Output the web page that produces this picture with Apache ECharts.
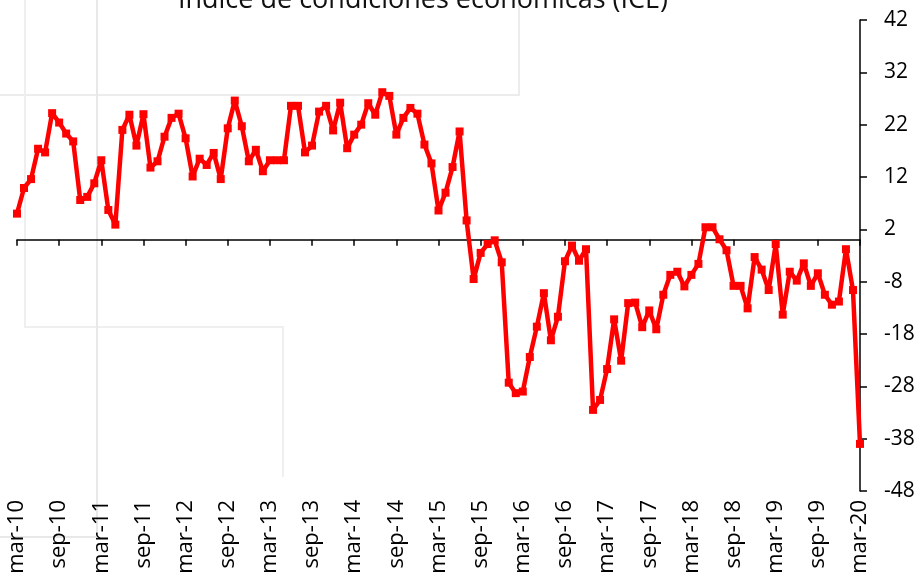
<!DOCTYPE html>
<html>
<head>
<meta charset="utf-8">
<script src="https://cdn.jsdelivr.net/npm/echarts@6/dist/echarts.min.js"></script>
<style>
  html, body { margin: 0; padding: 0; background: #fff; }
  #ice { width: 923px; height: 586px; }
</style>
</head>
<body>
<div id="ice"></div>
<script>
// meses y años del eje x (mar-10 .. mar-20)
const meses = ['ene', 'feb', 'mar', 'abr', 'may', 'jun', 'jul', 'ago', 'sep', 'oct', 'nov', 'dic'];
const anios = ['10', '11', '12', '13', '14', '15', '16', '17', '18', '19', '20'];

// valores del ICE, mensual desde mar-10
const valores = [
    5.0, 9.9, 11.6, 17.4, 16.7, 24.2, 22.4, 20.3, 18.8, 7.6, 8.2, 10.8,
    15.2, 5.7, 2.9, 21.0, 23.9, 18.0, 24.0, 13.8, 15.0, 19.7, 23.3, 24.1,
    19.4, 12.1, 15.5, 14.3, 16.6, 11.6, 21.3, 26.6, 21.7, 15.0, 17.2, 13.1,
    15.2, 15.2, 15.2, 25.6, 25.6, 16.7, 18.0, 24.5, 25.6, 20.9, 26.2, 17.5,
    20.1, 22.0, 26.1, 23.9, 28.2, 27.5, 20.1, 23.3, 25.2, 24.1, 18.2, 14.6,
    5.6, 9.0, 13.9, 20.7, 3.7, -7.5, -2.5, -0.8, -0.1, -4.3, -27.3, -29.3,
    -29.0, -22.4, -16.6, -10.2, -19.2, -14.7, -4.1, -1.1, -4.0, -1.8, -32.5, -30.6,
    -24.7, -15.2, -23.1, -12.1, -12.0, -16.7, -13.5, -17.1, -10.5, -6.7, -6.1, -8.9,
    -6.7, -4.6, 2.4, 2.4, 0.1, -2.0, -8.8, -8.8, -13.1, -3.3, -5.7, -9.6,
    -0.8, -14.3, -6.1, -7.8, -4.5, -8.8, -6.4, -10.5, -12.4, -11.8, -1.8, -9.6,
    -39.0
];

// eje y
const yMin = -48, yMax = 42, yPaso = 10;

// armar categorias
let categorias = [];
for (let a = 0; a < anios.length; a++) {
    for (let m = 0; m < 12; m++) {
        if (a === 0 && m < 2) continue;
        if (categorias.length >= valores.length) break;
        categorias.push(meses[m] + '-' + anios[a]);
    }
}

const fuente = '"Open Sans", "Noto Sans", sans-serif';

let myChart = echarts.init(document.getElementById('ice'));

let option = {
    animation: false,
    backgroundColor: '#fff',
    title: {
        text: 'Índice de condiciones económicas (ICE)',
        left: 418,
        top: -18,
        textAlign: 'center',
        textStyle: {
            fontFamily: fuente,
            fontWeight: 'normal',
            fontSize: 27,
            color: '#111'
        }
    },
    graphic: [
        // marcos tenues del fondo
        { type: 'polyline', silent: true, z: -1, shape: { points: [[0, 95], [519, 95], [519, 0]] }, style: { stroke: '#ececec', lineWidth: 2, fill: null } },
        { type: 'polyline', silent: true, z: -1, shape: { points: [[25, 0], [25, 327], [283, 327], [283, 477]] }, style: { stroke: '#efefef', lineWidth: 2, fill: null } },
        { type: 'polyline', silent: true, z: -1, shape: { points: [[97, 0], [97, 537], [0, 537]] }, style: { stroke: '#e8e8e8', lineWidth: 2, fill: null } }
    ],
    grid: {
        left: 17,
        right: 63,
        top: 20,
        bottom: 95
    },
    xAxis: [
        {
            type: 'category',
            data: categorias,
            boundaryGap: false,
            position: 'bottom',
            axisLine: { onZero: true, lineStyle: { color: '#000', width: 1.5 } },
            axisTick: { show: true, interval: 5, length: 6, lineStyle: { color: '#000', width: 1.5 } },
            axisLabel: { show: false },
            splitLine: { show: false }
        },
        {
            type: 'category',
            data: categorias,
            boundaryGap: false,
            position: 'bottom',
            axisLine: { show: false, onZero: false },
            axisTick: { show: false },
            axisLabel: {
                interval: 5,
                rotate: 90,
                margin: 9,
                color: '#000',
                fontFamily: fuente,
                fontSize: 22
            },
            splitLine: { show: false }
        }
    ],
    yAxis: {
        type: 'value',
        position: 'right',
        min: yMin,
        max: yMax,
        interval: yPaso,
        axisLine: { show: true, lineStyle: { color: '#000', width: 1.5 } },
        axisTick: { show: true, length: 7, lineStyle: { color: '#000', width: 1.5 } },
        axisLabel: {
            margin: 24,
            color: '#000',
            fontFamily: fuente,
            fontSize: 21
        },
        splitLine: { show: false }
    },
    series: [{
        name: 'ICE',
        type: 'line',
        xAxisIndex: 0,
        data: valores,
        symbol: 'rect',
        symbolSize: 8,
        showAllSymbol: true,
        lineStyle: { color: '#ff0000', width: 4.5 },
        itemStyle: { color: '#ff0000' }
    }]
};

myChart.setOption(option);
</script>
</body>
</html>
